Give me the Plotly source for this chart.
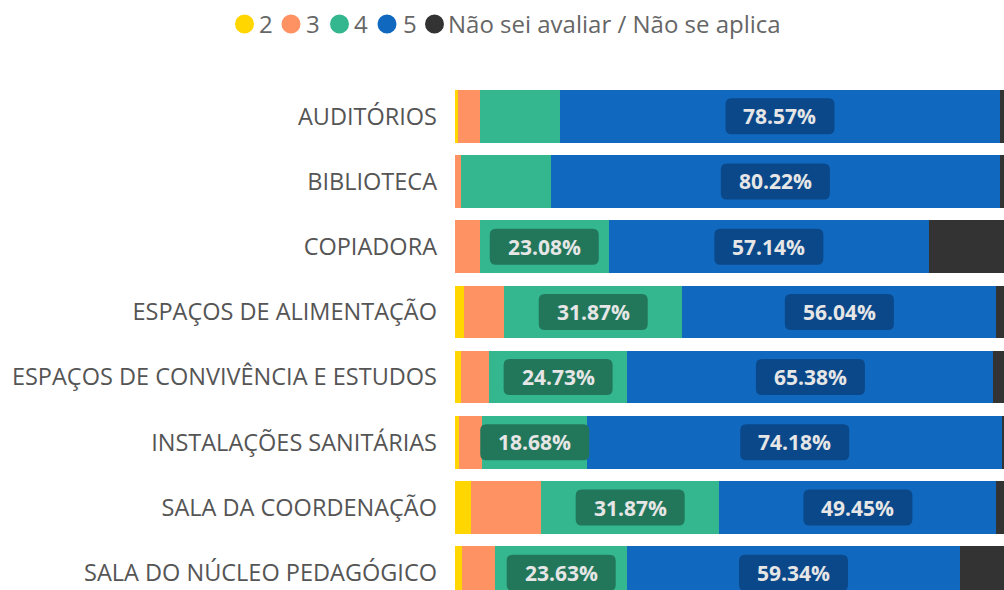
import plotly.graph_objects as go

# Survey answers per facility, share of respondents (%) for each rating
categories = [
    "AUDITÓRIOS",
    "BIBLIOTECA",
    "COPIADORA",
    "ESPAÇOS DE ALIMENTAÇÃO",
    "ESPAÇOS DE CONVIVÊNCIA E ESTUDOS",
    "INSTALAÇÕES SANITÁRIAS",
    "SALA DA COORDENAÇÃO",
    "SALA DO NÚCLEO PEDAGÓGICO",
]
series_names = ["2", "3", "4", "5", "Não sei avaliar / Não se aplica"]

rating_2 = [0.6, 0.0, 0.0, 1.55, 1.0, 0.7, 2.8, 1.2]
rating_3 = [3.8, 1.1, 4.40, 7.2, 5.05, 4.2, 12.55, 5.95]
rating_4 = [14.35, 16.0, 23.08, 31.87, 24.73, 18.68, 31.87, 23.63]
rating_5 = [78.57, 80.22, 57.14, 56.04, 65.38, 74.18, 49.45, 59.34]
not_rated = [2.68, 2.68, 15.38, 3.34, 3.84, 2.24, 3.33, 9.88]

series_values = [rating_2, rating_3, rating_4, rating_5, not_rated]

colors = ["#FFD600", "#FF9262", "#34B78F", "#1068BF", "#333333"]
label_bg = {2: "#22775B", 3: "#0A488A"}
LABELED_SERIES = [2, 3]
MIN_LABEL_PCT = 17

FONT = "Segoe UI, Open Sans, sans-serif"
W, H = 1004, 590
M_L, M_R, M_T, M_B = 455, 0, 75, 0

fig = go.Figure()
for name, vals, col in zip(series_names, series_values, colors):
    fig.add_trace(go.Bar(
        y=categories, x=vals, name=name, orientation="h",
        marker=dict(color=col, line=dict(width=0)),
        showlegend=False,
        hovertemplate="%{y}<br>" + name + ": %{x:.2f}%<extra></extra>",
    ))

# value labels on dark rounded boxes, centred in their segments
BOX_W, BOX_H, R = 109, 36, 6
hw, hh = BOX_W / 2, BOX_H / 2
box_path = (
    f"M {-hw + R},{-hh} L {hw - R},{-hh} Q {hw},{-hh} {hw},{-hh + R} "
    f"L {hw},{hh - R} Q {hw},{hh} {hw - R},{hh} L {-hw + R},{hh} "
    f"Q {-hw},{hh} {-hw},{hh - R} L {-hw},{-hh + R} Q {-hw},{-hh} {-hw + R},{-hh} Z"
)
shapes = []
annotations = []
for ci, cat in enumerate(categories):
    start = 0.0
    for si, vals in enumerate(series_values):
        v = vals[ci]
        if si in LABELED_SERIES and v >= MIN_LABEL_PCT:
            centre = start + v / 2
            shapes.append(dict(
                type="path", xref="x", yref="y",
                xsizemode="pixel", ysizemode="pixel",
                xanchor=centre, yanchor=cat, path=box_path,
                fillcolor=label_bg[si], line=dict(width=0), layer="above",
            ))
            annotations.append(dict(
                x=centre, y=cat, xref="x", yref="y", text=f"{v:.2f}%",
                showarrow=False, font=dict(family=FONT, size=21, color="#E6E6E6", weight="bold"),
            ))
        start += v

# legend row: coloured dots followed by the series names
def px_x(p):
    return (p - M_L) / (W - M_L - M_R)

def px_y(p):
    return 1 - (p - M_T) / (H - M_T - M_B)

legend_dots = [244.5, 291, 339.5, 387, 434.5]
legend_text = [257, 304, 352, 400.5, 445.5]
LEG_Y = 24
for name, col, cx, tx in zip(series_names, colors, legend_dots, legend_text):
    shapes.append(dict(
        type="circle", xref="paper", yref="paper",
        x0=px_x(cx - 9.5), x1=px_x(cx + 9.5), y0=px_y(LEG_Y + 9.5), y1=px_y(LEG_Y - 9.5),
        fillcolor=col, line=dict(width=0),
    ))
    annotations.append(dict(
        x=px_x(tx), y=px_y(LEG_Y), xref="paper", yref="paper",
        xanchor="left", yanchor="middle", text=name, showarrow=False,
        font=dict(family=FONT, size=24, color="#666666"),
    ))

fig.update_layout(
    width=W, height=H,
    margin=dict(l=M_L, r=M_R, t=M_T, b=M_B, pad=0),
    barmode="stack", bargap=0.192,
    paper_bgcolor="white", plot_bgcolor="white",
    xaxis=dict(range=[0, 98.04], visible=False, fixedrange=True),
    yaxis=dict(
        type="category", range=[7.265, -0.633],
        showgrid=False, zeroline=False, showline=False,
        ticks="", ticklabelstandoff=17,
        tickfont=dict(family=FONT, size=23.5, color="#555555"),
    ),
    shapes=shapes, annotations=annotations,
    showlegend=False,
)

fig.write_html("out.html")
